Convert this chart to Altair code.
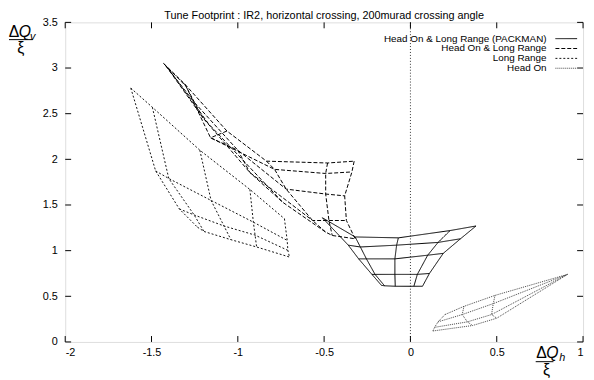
import altair as alt
import pandas as pd

TITLE = "Tune Footprint : IR2, horizontal crossing, 200murad crossing angle"
SERIES = ["Head On & Long Range (PACKMAN)", "Head On & Long Range", "Long Range", "Head On"]
DASHES = [[1, 0], [4, 2], [2, 2], [1, 1]]
COLORS = ["#000000", "#000000", "#111111", "#444444"]

X_TICKS = [-2, -1.5, -1, -0.5, 0, 0.5, 1]
Y_TICKS = [0, 0.5, 1, 1.5, 2, 2.5, 3, 3.5]

# Mesh vertices: rows = constant amplitude, columns = constant angle
PACK_X = [
    [-0.51, -0.32, -0.07, 0.23, 0.38],
    [-0.36, -0.29, -0.08, 0.16, 0.29],
    [-0.30, -0.255, -0.09, 0.10, 0.19],
    [-0.223, -0.205, -0.09, 0.04, 0.11],
    [-0.168, -0.15, -0.088, 0.02, 0.07],
]
PACK_Y = [
    [1.36, 1.15, 1.14, 1.22, 1.27],
    [1.06, 1.04, 1.06, 1.09, 1.13],
    [0.91, 0.91, 0.91, 0.95, 0.97],
    [0.74, 0.74, 0.74, 0.74, 0.75],
    [0.62, 0.615, 0.61, 0.61, 0.61],
]

HOLR_X = [
    [-1.43, -1.31, -1.063, -0.834, -0.48, -0.326],
    [-1.425, -1.30, -1.158, -0.787, -0.491, -0.339],
    [-1.42, -1.25, -1.0, -0.72, -0.491, -0.381],
    [-1.415, -1.20, -0.93, -0.567, -0.472, -0.371],
    [-1.405, -1.17, -0.74, -0.491, -0.453, -0.32],
]
HOLR_Y = [
    [3.05, 2.83, 2.31, 1.98, 1.96, 1.98],
    [3.04, 2.80, 2.236, 1.89, 1.845, 1.862],
    [3.03, 2.62, 2.10, 1.674, 1.62, 1.60],
    [3.02, 2.45, 1.855, 1.33, 1.33, 1.33],
    [3.00, 2.39, 1.53, 1.203, 1.166, 1.13],
]

LR_X = [
    [-1.62, -1.495, -1.22, -0.93, -0.73],
    [-1.476, -1.40, -1.155, -0.91, -0.714],
    [-1.339, -1.253, -1.08, -0.90, -0.71],
    [-1.234, -1.196, -1.04, -0.891, -0.701],
]
LR_Y = [
    [2.78, 2.57, 2.10, 1.67, 1.35],
    [1.873, 1.79, 1.55, 1.312, 1.112],
    [1.457, 1.391, 1.27, 1.17, 1.003],
    [1.257, 1.21, 1.12, 1.04, 0.93],
]

HO_X = [
    [0.20, 0.31, 0.49, 0.91],
    [0.16, 0.30, 0.48, 0.91],
    [0.14, 0.33, 0.47, 0.91],
    [0.13, 0.36, 0.50, 0.91],
]
HO_Y = [
    [0.30, 0.39, 0.51, 0.74],
    [0.22, 0.30, 0.42, 0.74],
    [0.16, 0.22, 0.30, 0.74],
    [0.12, 0.18, 0.26, 0.74],
]

MESHES = [(PACK_X, PACK_Y), (HOLR_X, HOLR_Y), (LR_X, LR_Y), (HO_X, HO_Y)]

rows = []
for name, (mx, my) in zip(SERIES, MESHES):
    nr, nc = len(mx), len(mx[0])
    for i in range(nr):
        for j in range(nc):
            rows.append({"series": name, "line": f"{name}-r{i}", "ord": j, "x": mx[i][j], "y": my[i][j]})
    for j in range(nc):
        for i in range(nr):
            rows.append({"series": name, "line": f"{name}-c{j}", "ord": i, "x": mx[i][j], "y": my[i][j]})
mesh_df = pd.DataFrame(rows)

W, H = 525, 324
FONT = "Liberation Sans"

xscale = alt.Scale(domain=[-2, 1], nice=False, zero=False)
yscale = alt.Scale(domain=[0, 3.5], nice=False, zero=False)
dash_scale = alt.Scale(domain=SERIES, range=DASHES)
color_scale = alt.Scale(domain=SERIES, range=COLORS)

mesh = alt.Chart(mesh_df).mark_line(strokeWidth=1).encode(
    x=alt.X("x:Q", scale=xscale,
            axis=alt.Axis(values=X_TICKS, title=None, grid=False, domain=False, ticks=False,
                          labelExpr="'' + datum.value", labelPadding=5, labelFontSize=11,
                          labelFont=FONT, labelColor="#000")),
    y=alt.Y("y:Q", scale=yscale,
            axis=alt.Axis(values=Y_TICKS, title=None, grid=False, domain=False, ticks=False,
                          labelExpr="'' + datum.value", labelPadding=8, labelFontSize=11,
                          labelFont=FONT, labelColor="#000")),
    detail="line:N",
    order="ord:Q",
    strokeDash=alt.StrokeDash("series:N", scale=dash_scale, legend=None),
    color=alt.Color("series:N", scale=color_scale, legend=None),
)

xt = pd.DataFrame({"v": X_TICKS})
yt = pd.DataFrame({"v": Y_TICKS})
tick_bottom = alt.Chart(xt).mark_rule(color="#000", strokeWidth=1).encode(
    x=alt.X("v:Q", scale=xscale), y=alt.value(H), y2=alt.value(H - 6))
tick_top = alt.Chart(xt).mark_rule(color="#000", strokeWidth=1).encode(
    x=alt.X("v:Q", scale=xscale), y=alt.value(0), y2=alt.value(6))
tick_left = alt.Chart(yt).mark_rule(color="#000", strokeWidth=1).encode(
    y=alt.Y("v:Q", scale=yscale), x=alt.value(0), x2=alt.value(6))
tick_right = alt.Chart(yt).mark_rule(color="#000", strokeWidth=1).encode(
    y=alt.Y("v:Q", scale=yscale), x=alt.value(W), x2=alt.value(W - 6))

zero_line = alt.Chart(pd.DataFrame({"v": [0]})).mark_rule(
    color="#000", strokeWidth=0.8, strokeDash=[1, 2]).encode(
    x=alt.X("v:Q", scale=xscale), y=alt.value(0), y2=alt.value(H))

leg_df = pd.DataFrame({"series": SERIES, "idx": list(range(len(SERIES)))})
leg_base = alt.Chart(leg_df).transform_calculate(ly="16.5 + 10 * datum.idx")
leg_text = leg_base.mark_text(align="right", baseline="middle", fontSize=10, font=FONT, color="#000").encode(
    x=alt.value(488), y=alt.Y("ly:Q", scale=None), text="series:N")
leg_line = leg_base.mark_rule(strokeWidth=1).encode(
    x=alt.value(497), x2=alt.value(519), y=alt.Y("ly:Q", scale=None),
    strokeDash=alt.StrokeDash("series:N", scale=dash_scale, legend=None),
    color=alt.Color("series:N", scale=color_scale, legend=None))

one = pd.DataFrame({"a": [0]})


def txt(s, x, y, size=16, italic=False, align="center"):
    return alt.Chart(one).mark_text(
        text=s, fontSize=size, font=FONT, fontStyle="italic" if italic else "normal",
        align=align, baseline="alphabetic", color="#000").encode(x=alt.value(x), y=alt.value(y))


title = alt.Chart(one).mark_text(text=TITLE, fontSize=11, font=FONT, align="center",
                                 baseline="middle", color="#000").encode(
    x=alt.value(W / 2), y=alt.value(-6.5))

ylab = [
    txt("Δ", -52, 15),
    txt("Q", -41, 15, italic=True),
    txt("v", -33, 18, size=11, italic=True),
    txt("ξ", -45, 31),
]
ybar = alt.Chart(one).mark_rule(color="#000", strokeWidth=1).encode(
    x=alt.value(-57), x2=alt.value(-33), y=alt.value(17.5))
xlab = [
    txt("Δ", 483, 340),
    txt("Q", 494, 340, italic=True),
    txt("h", 504, 343, size=11, italic=True),
    txt("ξ", 488, 357),
]
xbar = alt.Chart(one).mark_rule(color="#000", strokeWidth=1).encode(
    x=alt.value(477), x2=alt.value(495), y=alt.value(344))

chart = alt.layer(
    mesh, zero_line, tick_bottom, tick_top, tick_left, tick_right,
    leg_text, leg_line, title, ybar, xbar, *ylab, *xlab
).resolve_scale(strokeDash="shared", color="shared").properties(
    width=W, height=H,
    autosize=alt.AutoSizeParams(type="none"),
    padding={"left": 58, "top": 12, "right": 3, "bottom": 36},
).configure_view(stroke="#000", strokeWidth=1).configure(background="white")

chart.save("out.html", embed_options={"renderer": "svg", "actions": False})
